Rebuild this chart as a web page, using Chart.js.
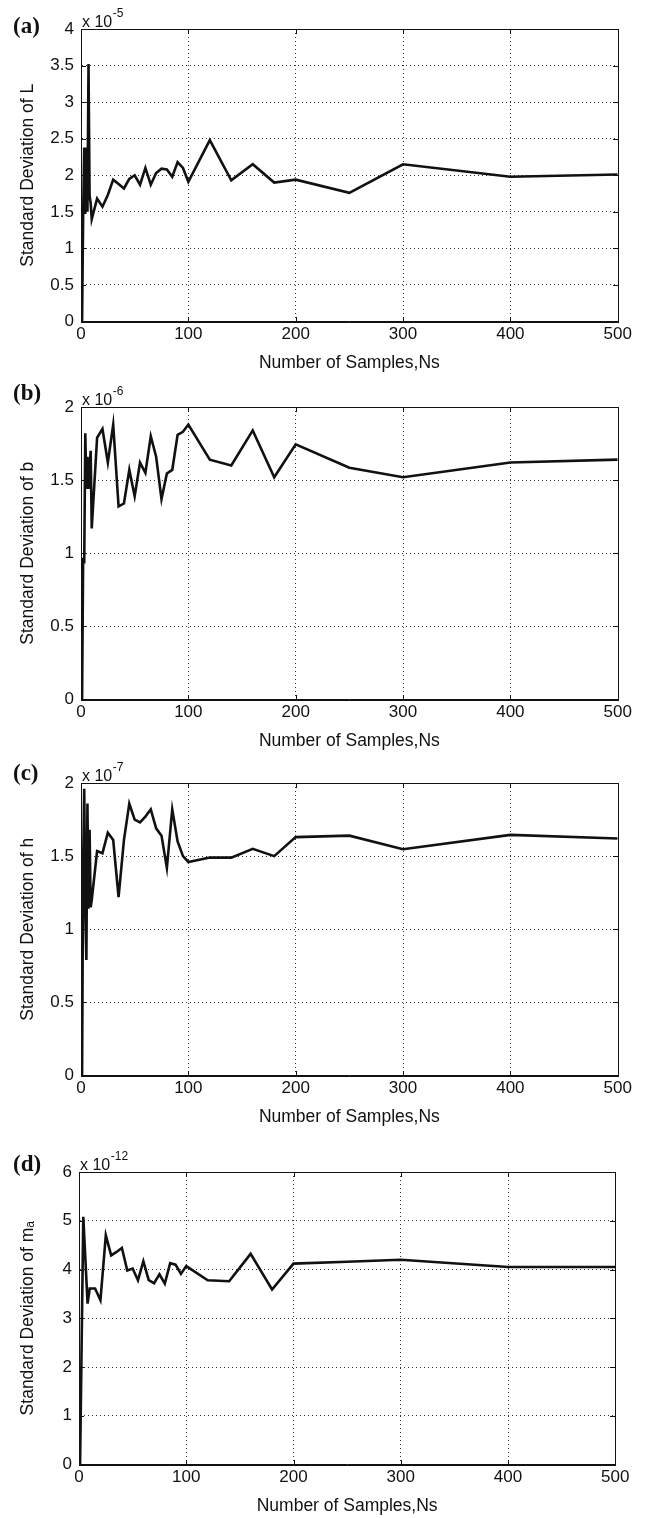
<!DOCTYPE html>
<html>
<head>
<meta charset="utf-8">
<script src="https://cdn.jsdelivr.net/npm/chart.js@4.4.0/dist/chart.umd.min.js"></script>
<style>
html,body{margin:0;padding:0;background:#fff;overflow:hidden;width:646px;height:1518px;}
.panel{position:absolute;left:0;width:646px;height:380px;}
</style>
</head>
<body>
<div class="panel" style="top:0px"><canvas id="cA"></canvas></div>
<div class="panel" style="top:378px"><canvas id="cB"></canvas></div>
<div class="panel" style="top:754px"><canvas id="cC"></canvas></div>
<div class="panel" style="top:1143px"><canvas id="cD"></canvas></div>
<script>
// ---- Data ----
// Number of samples used in panels (a), (b), (c)
const nsABC = [1,2,3,4,5,6,7,8,9,10,15,20,25,30,35,40,45,50,55,60,65,70,75,80,85,90,95,100,120,140,160,180,200,250,300,400,500];
// Number of samples used in panel (d)
const nsD = [1,4,8,10,15,20,25,30,35,40,45,50,55,60,65,70,75,80,85,90,95,100,120,140,160,180,200,250,300,400,500];

// (a) Standard deviation of L  (x 10^-5)
const stdL = [0,1.45,2.38,1.47,2.38,1.50,3.52,1.72,1.62,1.40,1.68,1.57,1.73,1.94,1.88,1.82,1.95,2.00,1.87,2.10,1.87,2.03,2.09,2.08,1.98,2.18,2.10,1.91,2.48,1.93,2.15,1.90,1.94,1.76,2.15,1.98,2.01];
// (b) Standard deviation of b  (x 10^-6)
const stdB = [0,0.97,0.93,1.82,1.44,1.66,1.44,1.58,1.70,1.17,1.79,1.85,1.62,1.88,1.32,1.34,1.57,1.39,1.62,1.55,1.80,1.66,1.37,1.545,1.57,1.81,1.83,1.88,1.64,1.60,1.84,1.52,1.745,1.585,1.52,1.62,1.64];
// (c) Standard deviation of h  (x 10^-7)
const stdH = [0,1.45,1.96,1.15,0.79,1.86,1.14,1.68,1.15,1.20,1.535,1.52,1.66,1.61,1.22,1.61,1.86,1.75,1.73,1.77,1.82,1.69,1.64,1.42,1.82,1.60,1.50,1.46,1.49,1.49,1.55,1.50,1.63,1.64,1.547,1.645,1.62];
// (d) Standard deviation of m_a  (x 10^-12)
const stdM = [0,5.08,3.30,3.61,3.61,3.37,4.70,4.29,4.36,4.44,3.98,4.02,3.78,4.17,3.78,3.72,3.90,3.71,4.13,4.10,3.91,4.07,3.78,3.76,4.32,3.59,4.12,4.16,4.20,4.05,4.05];

// Tick values and labels
const xTicks = [0,100,200,300,400,500];
const xTickLabels = ['0','100','200','300','400','500'];
const yTicksA = [0,0.5,1,1.5,2,2.5,3,3.5,4];
const yTickLabelsA = ['0','0.5','1','1.5','2','2.5','3','3.5','4'];
const yTicksBC = [0,0.5,1,1.5,2];
const yTickLabelsBC = ['0','0.5','1','1.5','2'];
const yTicksD = [0,1,2,3,4,5,6];
const yTickLabelsD = ['0','1','2','3','4','5','6'];

const xTitle = 'Number of Samples,Ns';
const yTitles = ['Standard Deviation of L','Standard Deviation of b','Standard Deviation of h','Standard Deviation of m\u2090'];
const panelNames = ['(a)','(b)','(c)','(d)'];
const exponents = ['-5','-6','-7','-12'];

// ---- Drawing ----
const SANS = '"Liberation Sans", Arial, Helvetica, sans-serif';
const SERIF = '"Liberation Serif", "Times New Roman", serif';
const H = 380, TOP = 29, PH = 292.5;

const frame = {
  id: 'frame',
  afterDraw(chart, args, opts) {
    const {ctx, chartArea, scales} = chart;
    const l = Math.round(chartArea.left), r = Math.round(chartArea.right);
    const t = Math.round(chartArea.top), b = Math.round(chartArea.bottom);
    ctx.save();
    ctx.strokeStyle = '#111';
    ctx.lineWidth = 1;
    ctx.strokeRect(l + 0.5, t + 0.5, r - l, b - t);
    const tl = 5;
    ctx.beginPath();
    scales.y.ticks.forEach(tk => {
      const py = Math.round(scales.y.getPixelForValue(tk.value)) + 0.5;
      ctx.moveTo(l, py); ctx.lineTo(l + tl, py);
      ctx.moveTo(r, py); ctx.lineTo(r - tl, py);
    });
    scales.x.ticks.forEach(tk => {
      const px = Math.round(scales.x.getPixelForValue(tk.value)) + 0.5;
      ctx.moveTo(px, b); ctx.lineTo(px, b - tl);
      ctx.moveTo(px, t); ctx.lineTo(px, t + tl);
    });
    ctx.stroke();
    ctx.fillStyle = '#111';
    ctx.textAlign = 'left';
    ctx.textBaseline = 'middle';
    ctx.font = 'bold 23px ' + SERIF;
    ctx.fillText(opts.panel, 13, t + opts.labelDy);
    ctx.textBaseline = 'alphabetic';
    ctx.font = '16px ' + SANS;
    ctx.fillText('x 10', l + 1, t - 2);
    const w = ctx.measureText('x 10').width;
    ctx.font = '12px ' + SANS;
    ctx.fillText(opts.expo, l + 1.5 + w, t - 12.5);
    ctx.restore();
  }
};

function makePanel(id, ns, vals, yTicks, yLabels, idx, L, R, labelDy) {
  const gridColor = c => {
    const v = c.tick ? c.tick.value : null;
    const sc = c.scale;
    return (v === sc.min || v === sc.max) ? 'rgba(0,0,0,0)' : '#333';
  };
  new Chart(document.getElementById(id), {
    type: 'line',
    data: {
      datasets: [{
        data: ns.map((x, i) => ({x: x, y: vals[i]})),
        borderColor: '#111',
        borderWidth: 2.6,
        pointRadius: 0,
        tension: 0,
        fill: false,
        borderJoinStyle: 'miter'
      }]
    },
    options: {
      responsive: true,
      maintainAspectRatio: false,
      animation: false,
      layout: {padding: {left: 0, top: TOP, right: 646 - R, bottom: 0}},
      plugins: {
        legend: {display: false},
        tooltip: {enabled: false},
        frame: {panel: panelNames[idx], expo: exponents[idx], labelDy: labelDy}
      },
      scales: {
        x: {
          type: 'linear', min: 0, max: 500,
          afterBuildTicks: a => { a.ticks = xTicks.map(v => ({value: v})); },
          afterFit: s => { s.height = H - TOP - PH; },
          ticks: {autoSkip: false, maxRotation: 0, padding: 3, color: '#111',
                  font: {family: SANS, size: 17},
                  callback: (v, i) => xTickLabels[i]},
          grid: {drawTicks: false, color: gridColor, lineWidth: 1},
          border: {display: true, color: '#111', width: 1, dash: [1, 3]},
          title: {display: true, text: xTitle, color: '#111',
                  font: {family: SANS, size: 17.5}, padding: {top: 0, bottom: 6.5}}
        },
        y: {
          type: 'linear', min: 0, max: yTicks[yTicks.length - 1],
          afterBuildTicks: a => { a.ticks = yTicks.map(v => ({value: v})); },
          afterFit: s => { s.width = L; },
          ticks: {padding: 7, color: '#111', font: {family: SANS, size: 17},
                  callback: (v, i) => yLabels[i]},
          grid: {drawTicks: false, color: gridColor, lineWidth: 1},
          border: {display: true, color: '#111', width: 1, dash: [1, 3]},
          title: {display: true, text: yTitles[idx], color: '#111',
                  font: {family: SANS, size: 17.5}, padding: {top: 17.5, bottom: 0}}
        }
      }
    },
    plugins: [frame]
  });
}

makePanel('cA', nsABC, stdL, yTicksA, yTickLabelsA, 0, 81, 617.7, -1.5);
makePanel('cB', nsABC, stdB, yTicksBC, yTickLabelsBC, 1, 81, 617.7, -13);
makePanel('cC', nsABC, stdH, yTicksBC, yTickLabelsBC, 2, 81, 617.7, -9);
makePanel('cD', nsD, stdM, yTicksD, yTickLabelsD, 3, 79, 615.3, -7);
</script>
</body>
</html>
